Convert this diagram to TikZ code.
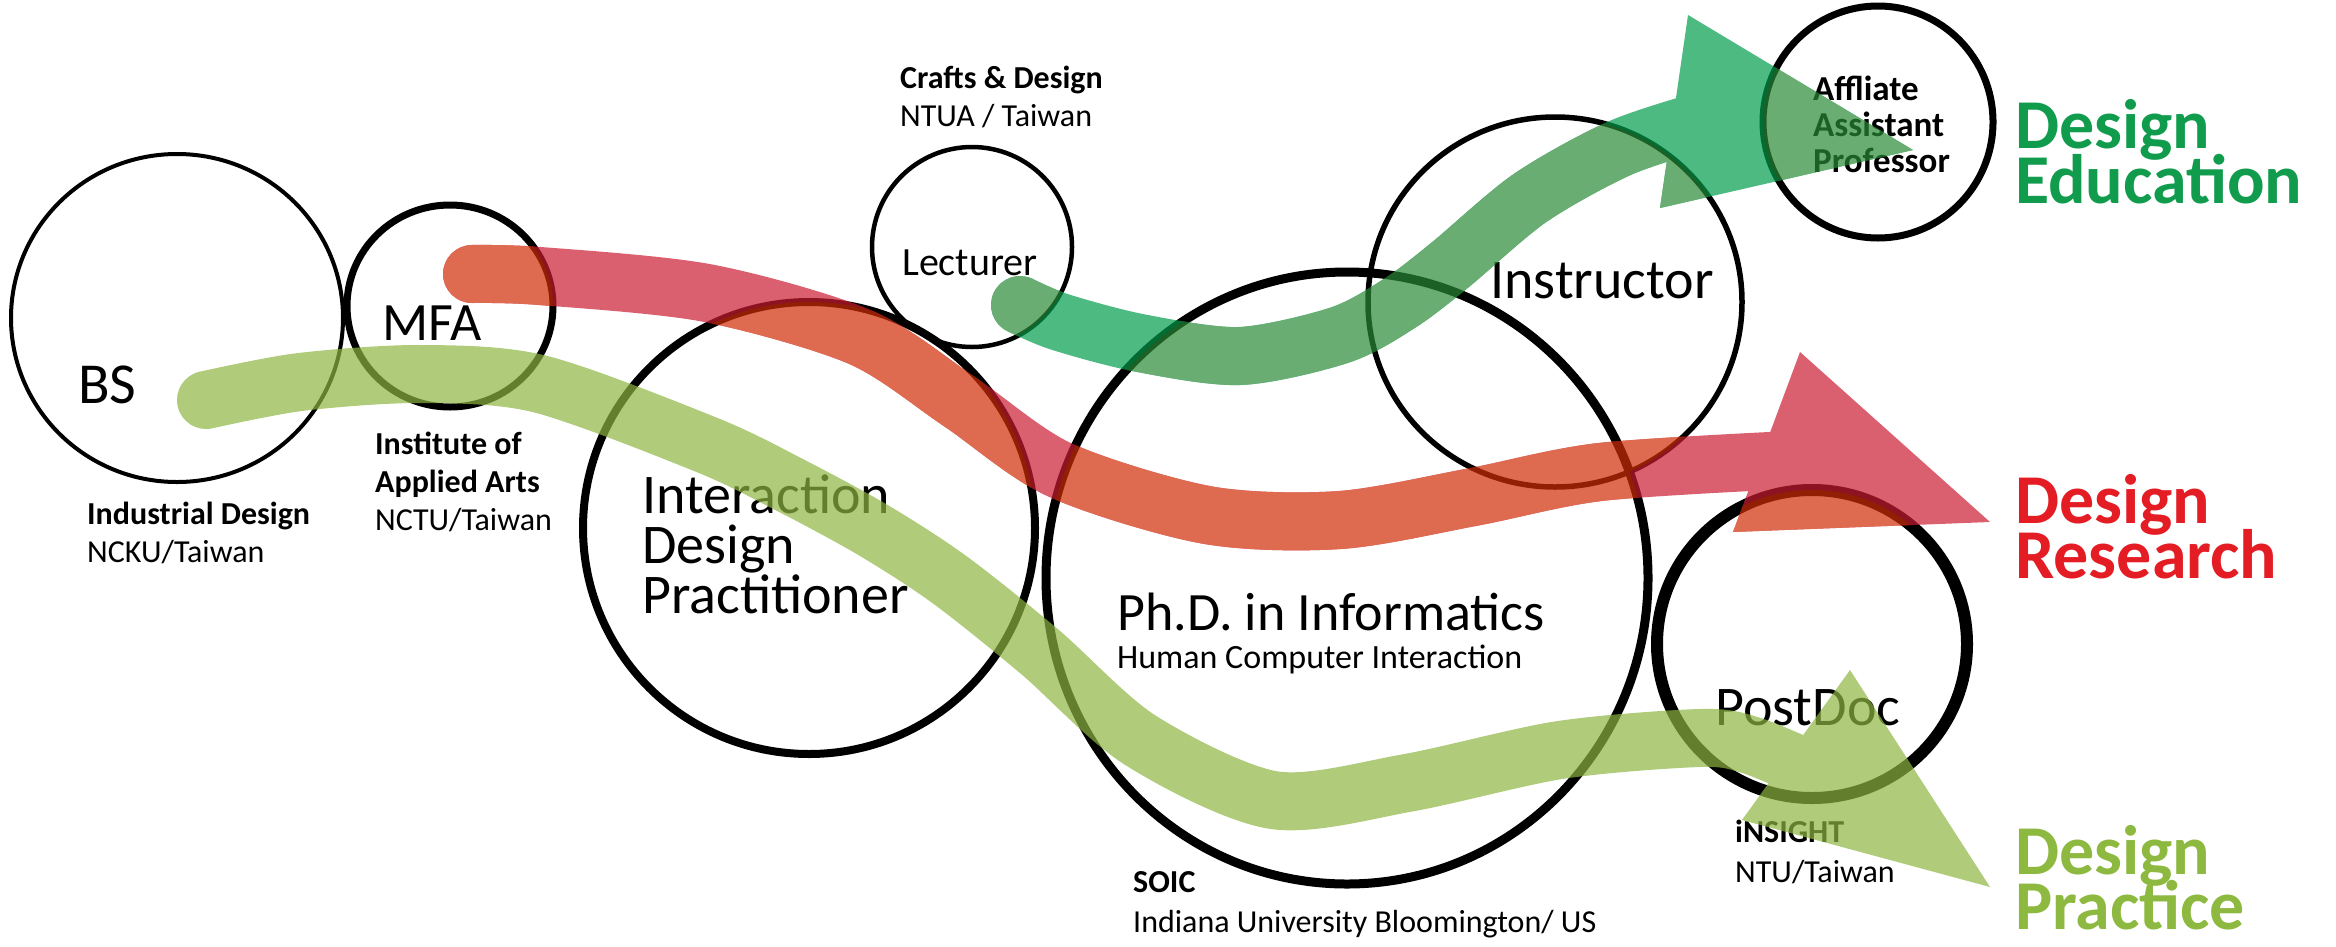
\documentclass[tikz,border=0pt]{standalone}
\usepackage{fontspec}
\setmainfont{Carlito}

\definecolor{eduGreen}{RGB}{16,156,76}
\definecolor{resRed}{RGB}{228,28,36}
\definecolor{pracGreen}{RGB}{141,185,64}
\definecolor{redOut}{RGB}{202,28,50}
\definecolor{redIn}{RGB}{208,44,6}
\definecolor{eduOut}{RGB}{0,156,76}
\definecolor{eduIn}{RGB}{42,138,54}
\definecolor{pracBand}{RGB}{142,181,66}

\lineskiplimit=-1000pt
\newcommand\fsz[2]{\fontsize{#1}{#2}\selectfont}
% centre x / centre y / x radius / y radius / line width
\newcommand\ringlist{177/318/166/164/4, 450/306/103/101/7, 972/247/100/100/4.5,
  809/528/226/226/8, 1347/578/301/306/9, 1555/302/187/185/5.5,
  1878/122/115/116/7, 1812/644/155/154/12}
\newcommand\redband{plot[smooth] coordinates {(redStart) (540,276) (707,293) (860,337)
  (960,402) (1060,470) (1207,515) (1340,520) (1473,497) (1600,472) (redEnd)}}
\newcommand\redhead{(redBarbA) -- (redTip) -- (redBarbB) -- cycle}
\newcommand\eduband{plot[smooth] coordinates {(eduStart) (1060,322) (1140,343) (1240,356)
  (1340,335) (1400,303) (1450,265) (1530,198) (1620,148) (eduEnd)}}
\newcommand\eduhead{(eduBarbA) -- (eduTip) -- (eduBarbB) -- cycle}

\begin{document}
\begin{tikzpicture}[x=1pt,y=-1pt,
    lbl/.style={anchor=base west,inner sep=0pt,align=left},
    band/.style={line width=58pt,line cap=round,line join=round}]
    \useasboundingbox (0,0) rectangle (2336,946);

    % the circles
    \foreach \cx/\cy/\rx/\ry/\lw in \ringlist
    \draw[line width=\lw pt] (\cx,\cy) ellipse [x radius=\rx pt, y radius=\ry pt];

    % (multi-line labels sit on their last line)
    \node[lbl,font=\fsz{58}{58}] (bsText) at (78,403) {BS};
    \node[lbl,font=\fsz{54}{54}] (mfaText) at (382,340) {MFA};
    \node[lbl,font=\fsz{40}{40}] (lecText) at (902,275) {Lecturer};
    \node[lbl,font=\fsz{56}{56}] (insText) at (1490,298) {Instructor};
    \node[lbl,font=\fsz{35}{36}\bfseries] (affText) at (1813,172) {Affliate\\Assistant\\Professor};
    \node[lbl,font=\fsz{56}{50}] (idpText) at (642,613) {Interaction\\Design\\Practitioner};
    \node[lbl,font=\fsz{54}{54}] (phdText) at (1117,630) {Ph.D. in Informatics};
    \node[lbl,font=\fsz{34}{34}] (hciText) at (1117,668) {Human Computer Interaction};
    \node[lbl,font=\fsz{56}{56}] (pdText) at (1715,725) {PostDoc};

    % schools
    \node[lbl,font=\fsz{32}{38}] (ncku) at (87,562) {\textbf{Industrial Design}\\NCKU/Taiwan};
    \node[lbl,font=\fsz{32}{38}] (nctu) at (375,530) {\textbf{Institute of}\\\textbf{Applied Arts}\\NCTU/Taiwan};
    \node[lbl,font=\fsz{32}{38}] (ntua) at (900,126) {\textbf{Crafts \& Design}\\NTUA / Taiwan};
    \node[lbl,font=\fsz{32}{40}] (soic) at (1133,932) {\textbf{SOIC}\\Indiana University Bloomington/ US};
    \node[lbl,font=\fsz{32}{40}] (ntu) at (1735,882) {\textbf{iNSIGHT}\\NTU/Taiwan};

    % the three outcomes
    \node[lbl,font=\fsz{70}{55}\bfseries,text=eduGreen] (eduText) at (2015,203) {Design\\Education};
    \node[lbl,font=\fsz{70}{55}\bfseries,text=resRed] (resText) at (2015,578) {Design\\Research};
    \node[lbl,font=\fsz{70}{55}\bfseries,text=pracGreen] (pracText) at (2015,929) {Design\\Practice};

    \coordinate (pracStart) at (206,400);
    \coordinate (pracEnd) at (1815,772);
    \coordinate (pracBarbA) at (1850,670);
    \coordinate (pracTip) at (1990,887);
    \coordinate (pracBarbB) at (1742,820);
    \coordinate (redStart) at (472,274);
    \coordinate (redEnd) at (1790,460);
    \coordinate (redBarbA) at (1800,352);
    \coordinate (redTip) at (1990,522);
    \coordinate (redBarbB) at (1733,532);
    \coordinate (eduStart) at (1020,305);
    \coordinate (eduEnd) at (1705,120);
    \coordinate (eduBarbA) at (1688,15);
    \coordinate (eduTip) at (1913,150);
    \coordinate (eduBarbB) at (1660,208);

    \begin{scope}[transparency group,opacity=0.7]
    \draw[band,pracBand] plot[smooth] coordinates {(pracStart) (300,382) (420,374) (540,384)
      (707,445) (790,485) (873,530) (950,580) (1040,652) (1140,740) (1273,800) (1407,783)
      (1560,750) (1700,738) (1750,745) (pracEnd)};
    \fill[pracBand] (pracBarbA) -- (pracTip) -- (pracBarbB) -- cycle;
    \end{scope}

    \begin{scope}[transparency group,opacity=0.7]
    \draw[band,redOut] \redband;
    \fill[redOut] \redhead;
    \begin{scope}
    \clip \foreach \cx/\cy/\rx/\ry/\lw in \ringlist {(\cx,\cy) ellipse [x radius=\rx pt, y radius=\ry pt]};
    \draw[band,redIn] \redband;
    \fill[redIn] \redhead;
    \end{scope}
    \end{scope}

    \begin{scope}[transparency group,opacity=0.7]
    \draw[band,eduOut] \eduband;
    \fill[eduOut] \eduhead;
    \begin{scope}
    \clip \foreach \cx/\cy/\rx/\ry/\lw in \ringlist {(\cx,\cy) ellipse [x radius=\rx pt, y radius=\ry pt]};
    \draw[band,eduIn] \eduband;
    \fill[eduIn] \eduhead;
    \end{scope}
    \end{scope}
\end{tikzpicture}
\end{document}
